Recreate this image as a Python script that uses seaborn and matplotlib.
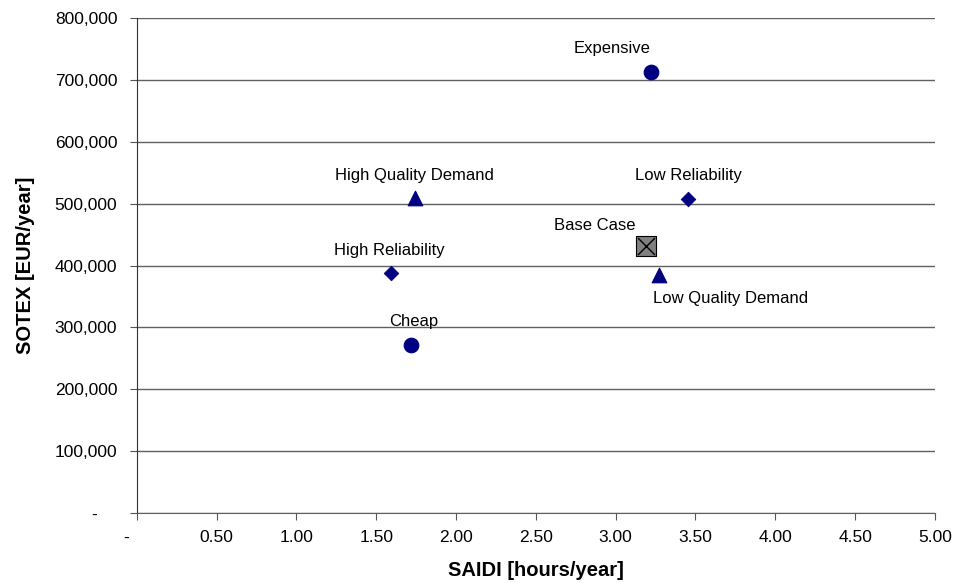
import numpy as np
import pandas as pd
import matplotlib
matplotlib.use("Agg")
import matplotlib.pyplot as plt
import seaborn as sns
from matplotlib.ticker import FuncFormatter

names = ["Expensive", "Cheap", "High Quality Demand", "Low Quality Demand",
         "High Reliability", "Low Reliability", "Base Case"]
saidi = [3.22, 1.72, 1.74, 3.27, 1.59, 3.45, 3.19]
sotex = [713000, 271000, 509000, 385000, 388000, 508000, 431000]
kind = ["cost", "cost", "quality", "quality", "reliab", "reliab", "base"]

df = pd.DataFrame({"name": names, "SAIDI": saidi, "SOTEX": sotex, "kind": kind})

sns.set_style("white")
plt.rcParams["font.family"] = ["Liberation Sans", "DejaVu Sans"]
plt.rcParams["text.color"] = "black"
plt.rcParams["axes.labelcolor"] = "black"
plt.rcParams["xtick.color"] = "black"
plt.rcParams["ytick.color"] = "black"

fig, ax = plt.subplots(figsize=(9.56, 5.83), dpi=100)

navy = "#000080"
sns.scatterplot(data=df[df.kind == "cost"], x="SAIDI", y="SOTEX", marker="o",
                s=110, color=navy, edgecolor=navy, ax=ax, zorder=3)
sns.scatterplot(data=df[df.kind == "quality"], x="SAIDI", y="SOTEX", marker="^",
                s=110, color=navy, edgecolor=navy, ax=ax, zorder=3)
sns.scatterplot(data=df[df.kind == "reliab"], x="SAIDI", y="SOTEX", marker="D",
                s=55, color=navy, edgecolor=navy, ax=ax, zorder=3)
base = df[df.kind == "base"]
sns.scatterplot(data=base, x="SAIDI", y="SOTEX", marker="s", s=190,
                color="#808080", edgecolor="black", linewidth=0.8, ax=ax, zorder=3)
sns.scatterplot(data=base, x="SAIDI", y="SOTEX", marker="x", s=150,
                color="black", linewidth=1.0, ax=ax, zorder=4)

# label offsets in points
offs = {"Expensive": (-28, 17), "Cheap": (2, 17),
        "High Quality Demand": (0, 16), "Low Quality Demand": (52, -17),
        "High Reliability": (-1, 16), "Low Reliability": (1, 17),
        "Base Case": (-37, 15)}
for _, r in df.iterrows():
    dx, dy = offs[r["name"]]
    ax.annotate(r["name"], (r["SAIDI"], r["SOTEX"]), xytext=(dx, dy),
                textcoords="offset points", ha="center", va="center", fontsize=12)

ax.set_xlim(0, 5)
ax.set_ylim(0, 800000)
ax.set_xticks(np.arange(0, 5.01, 0.5))
ax.set_yticks(np.arange(0, 800001, 100000))
ax.xaxis.set_major_formatter(FuncFormatter(lambda v, p: "-    " if v == 0 else f"{v:.2f}"))
ax.yaxis.set_major_formatter(FuncFormatter(lambda v, p: "-    " if v == 0 else f"{v:,.0f}"))
ax.yaxis.grid(True, color="#606060", linewidth=1)
ax.xaxis.grid(False)
ax.set_axisbelow(True)
for s in ["top", "right"]:
    ax.spines[s].set_visible(False)
ax.spines["left"].set_color("#333333")
ax.spines["bottom"].set_color("#606060")
ax.tick_params(axis="both", direction="out", length=5, color="#555555",
               labelsize=12.5, left=True, bottom=True)
ax.tick_params(axis="x", pad=7)
ax.tick_params(axis="y", pad=9)
ax.set_xlabel("SAIDI [hours/year]", fontsize=14.5, fontweight="bold", labelpad=12)
ax.set_ylabel("SOTEX [EUR/year]", fontsize=14.5, fontweight="bold", labelpad=14)

plt.subplots_adjust(left=0.143, right=0.978, top=0.969, bottom=0.12)
plt.savefig("out.png", dpi=100)
